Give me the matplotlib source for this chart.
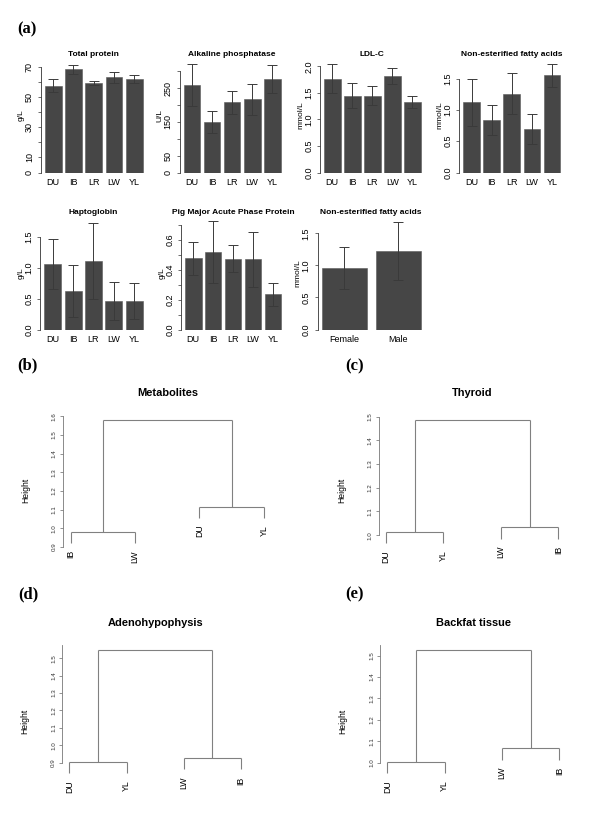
import numpy as np
import matplotlib
matplotlib.use("Agg")
import matplotlib.pyplot as plt

plt.rcParams['font.family'] = ['Liberation Sans', 'DejaVu Sans']

W, H = 600, 818

# ---- data ----
breeds = ['DU', 'IB', 'LR', 'LW', 'YL']
sexes = ['Female', 'Male']

tp_mean = [57.5, 68.3, 59.0, 63.0, 61.9]
tp_err = [4.5, 3.0, 1.4, 3.8, 2.6]
alp_mean = [260, 149, 208, 218, 277]
alp_err = [62, 33, 35, 46, 41]
ldl_mean = [1.77, 1.45, 1.45, 1.82, 1.33]
ldl_err = [0.27, 0.23, 0.18, 0.15, 0.12]
nefa_mean = [1.12, 0.84, 1.26, 0.69, 1.55]
nefa_err = [0.37, 0.235, 0.325, 0.24, 0.185]
hp_mean = [1.06, 0.63, 1.11, 0.46, 0.46]
hp_err = [0.405, 0.42, 0.615, 0.31, 0.285]
pigmap_mean = [0.478, 0.52, 0.475, 0.47, 0.236]
pigmap_err = [0.11, 0.205, 0.09, 0.183, 0.078]
nefa_sex_mean = [0.96, 1.22]
nefa_sex_err = [0.325, 0.455]

# dendrograms: leaf order, left pair height, right pair height, root height
met_leaves = ['IB', 'LW', 'DU', 'YL']
met_heights = [0.98, 1.115, 1.581]
thy_leaves = ['DU', 'YL', 'LW', 'IB']
thy_heights = [1.014, 1.033, 1.486]
ade_leaves = ['DU', 'YL', 'LW', 'IB']
ade_heights = [0.904, 0.925, 1.548]
bft_leaves = ['DU', 'YL', 'LW', 'IB']
bft_heights = [1.003, 1.066, 1.527]

BAR = '#464646'
fig = plt.figure(figsize=(6, 8.18), dpi=100)


def box(x0, y0, x1, y1):
    return fig.add_axes([x0 / W, 1 - y1 / H, (x1 - x0) / W, (y1 - y0) / H])


def ftext(x, y, s, **kw):
    fig.text(x / W, 1 - y / H, s, **kw)


def barpanel(c0, c1, ytop, yzero, ref, labels, means, errs, title, ylab,
             ticks, shown, fmt):
    n = len(means)
    rng = 1.2 * n - 0.2
    lo = (0.2 - 0.04 * rng - 0.7) / 1.2
    hi = (1.2 * n + 0.04 * rng - 0.7) / 1.2
    step = (c1 - c0) / (n - 1)
    x0 = c0 + lo * step
    x1 = c1 + (hi - (n - 1)) * step
    ax = box(x0, ytop, x1, yzero)
    pos = np.arange(n)
    ax.bar(pos, means, width=1 / 1.2, color=BAR, edgecolor='#5a5a5a', lw=0.4)
    ax.errorbar(pos, means, yerr=errs, fmt='none', ecolor='#3a3a3a',
                elinewidth=0.7, capsize=3.3, capthick=0.7)
    ax.set_xlim(lo, hi)
    top = (yzero - ytop) * ref[0] / (yzero - ref[1])
    ax.set_ylim(0, top)
    for s in ['top', 'right', 'bottom']:
        ax.spines[s].set_visible(False)
    ax.spines['left'].set_bounds(ticks[0], ticks[-1])
    ax.spines['left'].set_color('#333333')
    ax.spines['left'].set_linewidth(0.6)
    ax.set_xticks(pos)
    ax.set_xticklabels(labels)
    ax.tick_params(axis='x', length=0, pad=4, labelsize=6.5)
    ax.set_yticks(ticks)
    ax.set_yticklabels([fmt.format(t) if t in shown else '' for t in ticks],
                       rotation=90, va='center')
    ax.tick_params(axis='y', length=2.5, width=0.5, pad=2.5, labelsize=6.5,
                   color='#333333')
    ftext((x0 + x1) / 2, ytop - 8, title, ha='center', va='center',
          fontsize=6, fontweight='bold')
    ftext(x0 - 19.5, (ytop + yzero) / 2 - 2, ylab, ha='center', va='center',
          rotation=90, fontsize=6)
    return ax


def dendro(x0, x1, y0, y1, leaves, heights, title, ylab_y, spine_top=False):
    ax = box(x0, y0, x1, y1)
    hl, hr, hroot = heights
    hang = 0.1 * (max(heights) - min(heights))
    col = '#808080'
    kw = dict(color=col, lw=0.8, solid_capstyle='butt')
    for xs, h in [((1, 2), hl), ((3, 4), hr)]:
        for x in xs:
            ax.plot([x, x], [h - hang, h], **kw)
        ax.plot([xs[0], xs[1]], [h, h], **kw)
    ax.plot([1.5, 1.5], [hl, hroot], **kw)
    ax.plot([3.5, 3.5], [hr, hroot], **kw)
    ax.plot([1.5, 3.5], [hroot, hroot], **kw)
    ends = [hl - hang, hl - hang, hr - hang, hr - hang]
    for i, (lab, e) in enumerate(zip(leaves, ends)):
        ax.annotate(lab, (i + 1, e), xytext=(0, -5), textcoords='offset points',
                    rotation=90, ha='center', va='top', fontsize=6.3,
                    annotation_clip=False)
    lo, hi = min(ends), hroot
    ext = 0.04 * (hi - lo)
    ax.set_xlim(0.88, 4.12)
    ax.set_ylim(lo - ext, hi + ext)
    ticks = np.arange(np.ceil((lo - ext) * 10 - 1e-6), np.floor((hi + ext) * 10 + 1e-6) + 1) / 10
    ax.set_yticks(ticks)
    ax.set_yticklabels(['{:.1f}'.format(t) for t in ticks], rotation=90, va='center')
    ax.tick_params(axis='y', length=2.5, width=0.5, pad=2, labelsize=4.5,
                   color='#666666', labelcolor='#333333')
    ax.set_xticks([])
    for s in ['top', 'right', 'bottom']:
        ax.spines[s].set_visible(False)
    ax.spines['left'].set_bounds(ticks[0], hi + ext if spine_top else ticks[-1])
    ax.spines['left'].set_color('#777777')
    ax.spines['left'].set_linewidth(0.6)
    ftext((x0 + x1) / 2, y0 - 22, title, ha='center', va='center',
          fontsize=7.9, fontweight='bold')
    ftext(x0 - 37.5, ylab_y, 'Height', ha='center', va='center', rotation=90,
          fontsize=6.2)
    return ax


# ---- panel (a) ----
barpanel(53.2, 134.3, 62, 172.5, (70, 66.7), breeds, tp_mean, tp_err,
         'Total protein', 'g/L', list(range(0, 71, 10)), [0, 10, 30, 50, 70], '{:.0f}')
barpanel(192, 272.2, 62, 172.5, (250, 88.3), breeds, alp_mean, alp_err,
         'Alkaline phosphatase', 'U/L', list(range(0, 301, 50)), [0, 50, 150, 250], '{:.0f}')
barpanel(332.3, 412.3, 62, 172.5, (2.0, 66.3), breeds, ldl_mean, ldl_err,
         'LDL-C', 'mmol/L', [0.0, 0.5, 1.0, 1.5, 2.0], [0.0, 0.5, 1.0, 1.5, 2.0], '{:.1f}')
barpanel(471.7, 552, 62, 172.5, (1.5, 78.5), breeds, nefa_mean, nefa_err,
         'Non-esterified fatty acids', 'mmol/L', [0.0, 0.5, 1.0, 1.5], [0.0, 0.5, 1.0, 1.5], '{:.1f}')
barpanel(52.8, 134.2, 220, 329.5, (1.5, 236.7), breeds, hp_mean, hp_err,
         'Haptoglobin', 'g/L', [0.0, 0.5, 1.0, 1.5], [0.0, 0.5, 1.0, 1.5], '{:.1f}')
pm_ticks = [0.0, 0.1, 0.2, 0.3, 0.4, 0.5, 0.6, 0.7]
barpanel(193.3, 272.8, 220, 329.5, (0.6, 240), breeds, pigmap_mean, pigmap_err,
         'Pig Major Acute Phase Protein', 'g/L', pm_ticks, [0.0, 0.2, 0.4, 0.6], '{:.1f}')
barpanel(344.2, 398.3, 220, 329.5, (1.5, 233.3), sexes, nefa_sex_mean, nefa_sex_err,
         'Non-esterified fatty acids', 'mmol/L', [0.0, 0.5, 1.0, 1.5], [0.0, 0.5, 1.0, 1.5], '{:.1f}')

# ---- dendrograms (b)-(e) ----
dendro(62.9, 271.6, 415, 548, met_leaves, met_heights, 'Metabolites', 490)
dendro(379.1, 565.2, 415, 548, thy_leaves, thy_heights, 'Thyroid', 490.7)
dendro(62.4, 247.9, 645, 778, ade_leaves, ade_heights, 'Adenohypophysis', 721.7, spine_top=True)
dendro(380.4, 566.2, 645, 778, bft_leaves, bft_heights, 'Backfat tissue', 721.7, spine_top=True)

for lab, x, y in [('(a)', 17, 29), ('(b)', 17, 365), ('(c)', 345, 366),
                  ('(d)', 18, 594), ('(e)', 345, 594)]:
    ftext(x, y, lab, ha='left', va='center', fontsize=12, fontweight='bold',
          family='Liberation Serif')

fig.savefig('out.png', dpi=100)
